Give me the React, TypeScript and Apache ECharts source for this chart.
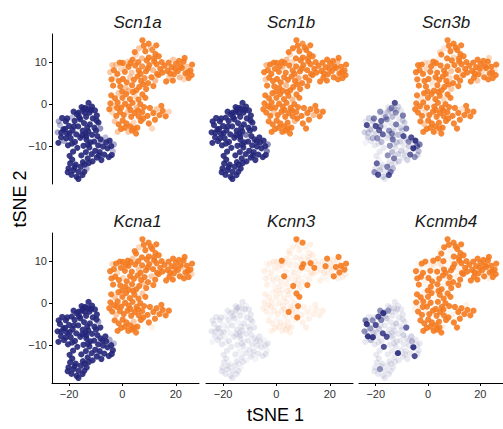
import React, { useEffect, useRef } from "react";
import * as echarts from "echarts";

const GENES = ["Scn1a", "Scn1b", "Scn3b", "Kcna1", "Kcnn3", "Kcnmb4"];
const X_TICKS = [-20, 0, 20];
const Y_TICKS = [-10, 0, 10];
const X_RANGE = [-26.4, 28.7];
const Y_RANGE = [-19, 16.7];

// tSNE coordinates of the orange cluster (shared by all panels)
const ORANGE_POINTS: [number, number][] = [
  [7.5, 15.2], [9.8, 14.4], [12.7, 14.0], [6.2, 13.3], [8.6, 12.6], [11.2, 12.9], [5.1, 11.8], [13.6, 11.4], [9.9, 11.1], [7.3, 10.9], [3.8, 10.6], [11.9, 10.2],
  [-4.6, 7.6], [-3.2, 8.1], [-1.9, 7.2], [-0.6, 8.4], [0.9, 7.7], [2.3, 8.9], [3.5, 7.5], [4.8, 9.2], [6.1, 8.0], [7.4, 9.0],
  [8.8, 7.8], [10.1, 9.3], [11.5, 8.1], [12.8, 9.5], [14.2, 8.4], [-4.1, 5.9], [-2.7, 6.3], [-1.3, 5.5], [0.2, 6.0], [1.6, 5.2],
  [2.9, 6.4], [4.3, 5.8], [5.7, 6.6], [7.0, 5.5], [8.3, 6.2], [9.6, 5.0], [10.9, 6.4], [12.3, 5.6], [13.5, 6.9], [-3.5, 4.4],
  [-0.8, 4.2], [1.1, 3.9], [3.6, 4.5], [6.3, 4.1], [8.9, 3.6], [11.6, 4.3], [2.0, 10.1], [0.1, 9.8], [-2.4, 9.4], [5.9, 10.0],
  [9.1, 10.4], [13.0, 7.2], [15.0, 7.5], [4.0, 2.9],
  [15.8, 9.1], [16.9, 7.9], [17.6, 6.3], [18.4, 8.8], [19.3, 7.1], [20.1, 9.6], [20.8, 7.9], [21.5, 6.4], [22.3, 8.6], [22.9, 10.1],
  [23.6, 7.3], [24.2, 8.9], [24.8, 6.2], [25.5, 8.0], [26.1, 9.4], [25.9, 6.9], [21.2, 10.3], [18.9, 5.6], [23.1, 5.9], [16.4, 5.4],
  [19.8, 8.4], [24.5, 7.6],
  [-4.2, 2.1], [-2.8, 1.4], [-1.5, 2.6], [0.0, 1.5], [1.4, 2.4], [2.8, 1.2], [4.5, 2.0], [6.0, 1.1], [7.5, 2.3], [-4.5, 0.2],
  [-3.1, -0.5], [-1.8, 0.4], [-0.4, -0.8], [1.0, 0.1], [2.4, -0.6], [3.8, 0.3], [5.3, -0.9], [6.7, 0.0], [8.1, -0.7], [-3.8, -2.0],
  [-2.3, -2.8], [-0.9, -1.9], [0.5, -2.6], [1.9, -1.8], [3.3, -3.0], [4.6, -2.1], [6.1, -2.9], [7.4, -1.9], [-2.9, -4.1], [-1.4, -4.8],
  [0.1, -3.9], [1.5, -4.6], [2.9, -5.3], [4.2, -4.4], [5.6, -5.6], [6.9, -4.0], [3.6, -6.3], [5.1, -7.0], [2.2, -6.6], [-0.5, -5.9],
  [8.6, 1.5], [9.4, -2.8],
  [10.3, -0.9], [11.6, -2.1], [12.8, -1.2], [13.9, -2.6], [15.1, -1.6], [16.2, -2.9], [17.4, -1.8], [12.2, -3.7], [11.1, -5.8], [14.6, -0.4],
  // additional points
  [8.0, 13.9], [10.6, 13.5], [4.6, 12.4], [12.4, 11.9], [1.2, 9.0], [-1.0, 9.9], [-3.8, 9.3], [3.0, 9.8], [6.8, 7.2], [9.5, 8.5],
  [11.9, 10.9], [14.7, 10.0], [17.3, 9.9], [19.0, 10.6], [21.8, 9.0], [23.3, 11.0], [17.9, 7.3], [-0.1, 3.0], [2.3, 3.2], [5.2, 3.3],
  [7.9, 4.7], [-4.9, -1.2], [-2.0, -0.9], [3.0, -1.4], [5.9, -1.5], [-1.8, -6.6], [0.9, -5.6], [7.8, -3.4], [9.9, -4.6], [4.4, -5.8],
];

// tSNE coordinates of the blue cluster (shared by all panels)
const BLUE_POINTS: [number, number][] = [
  [-12.7, 0.3], [-11.4, -0.6], [-13.9, -0.9], [-10.3, -1.5], [-15.2, -1.8], [-12.3, -2.0], [-17.1, -2.4], [-9.6, -2.7], [-13.6, -3.0], [-19.0, -3.2],
  [-11.1, -3.4], [-15.8, -3.6], [-21.2, -4.1], [-17.9, -4.0], [-14.4, -4.5], [-9.0, -4.4], [-12.2, -4.8], [-23.4, -5.0], [-20.0, -5.2], [-16.6, -5.3],
  [-10.5, -5.6], [-8.3, -5.8], [-22.1, -6.0], [-18.7, -6.2], [-14.9, -6.3], [-12.8, -6.5], [-24.3, -6.7], [-20.8, -7.0], [-17.3, -7.2], [-11.4, -7.3],
  [-9.4, -7.6], [-23.0, -7.9], [-19.4, -8.1], [-15.8, -8.0], [-13.5, -8.4], [-21.9, -8.8], [-17.8, -9.0], [-24.0, -9.2], [-10.6, -8.9], [-20.4, -9.8],
  [-16.2, -3.1], [-18.3, -1.8], [-14.1, -2.0], [-22.6, -3.3], [-19.8, -6.9],
  [-14.6, -9.9], [-12.4, -10.3], [-13.7, -11.4], [-11.5, -11.9], [-15.4, -12.2], [-13.0, -12.9], [-12.0, -9.1], [-14.8, -13.8],
  [-8.2, -8.4], [-6.4, -7.9], [-4.8, -8.7], [-3.2, -9.6], [-9.1, -9.8], [-7.3, -10.1], [-5.6, -10.5], [-3.6, -11.2], [-8.5, -11.4], [-6.8, -12.0],
  [-5.1, -12.6], [-9.6, -12.7], [-7.9, -13.3], [-6.1, -9.1], [-4.2, -10.0], [-10.2, -11.1],
  [-19.6, -14.1], [-17.5, -14.4], [-15.6, -14.9], [-20.2, -15.3], [-18.4, -15.7], [-16.5, -16.1], [-13.4, -15.3], [-19.1, -16.8], [-17.2, -17.3], [-15.0, -16.9],
  [-16.5, -17.8], [-14.1, -14.4], [-18.8, -13.2], [-12.6, -14.0], [-20.5, -16.2],
  [-16.9, -10.4], [-18.5, -11.3], [-11.2, -13.6], [-13.8, -7.0], [-21.5, -5.9], [-9.9, -6.3], [-15.3, -0.7], [-12.9, -1.2],
  // additional points
  [-11.8, -1.4], [-14.7, -1.2], [-16.4, -2.0], [-20.7, -3.4], [-23.9, -4.1], [-22.9, -6.8], [-18.2, -5.3], [-13.2, -5.6], [-9.7, -3.9], [-15.1, -7.4],
  [-21.1, -8.1], [-18.9, -9.4], [-12.9, -9.6], [-7.4, -8.9], [-4.0, -12.1], [-8.8, -12.2], [-17.9, -15.0], [-14.3, -16.1], [-19.8, -12.3], [-13.6, -7.7],
];

// expression levels (0 = none, 9 = high), one per point
const SCN1A_ORANGE = [
  9, 9, 9, 4, 9, 8, 3, 9, 9, 5, 9, 9,
  4, 9, 9, 3, 9, 9, 4, 9, 9, 8, 9, 9, 5, 9, 9, 9, 3, 9, 9, 9, 4, 9, 9, 9, 8, 9, 9, 5, 9, 9, 9, 4, 9, 9, 9, 9, 3, 9, 4, 9, 9, 9, 9, 9,
  9, 9, 4, 9, 9, 9, 9, 5, 9, 9, 9, 4, 9, 9, 9, 9, 9, 9, 3, 9, 9, 9,
  9, 9, 4, 9, 9, 9, 3, 9, 9, 9, 4, 9, 9, 9, 9, 9, 5, 9, 9, 3, 9, 9, 9, 4, 9, 9, 9, 9, 4, 9, 9, 9, 9, 3, 9, 9, 9, 9, 4, 9, 9, 9,
  9, 9, 4, 9, 9, 9, 3, 9, 3, 9,
  9, 4, 9, 9, 3, 9, 4, 9, 9, 9, 9, 9, 9, 4, 9, 9, 9, 9, 5, 9, 9, 9, 9, 9, 9, 4, 9, 9, 9, 9,
];
const SCN1B_ORANGE = [
  9, 8, 9, 9, 9, 9, 3, 9, 9, 9, 5, 9,
  9, 9, 9, 9, 9, 5, 9, 9, 9, 9, 9, 9, 9, 9, 9, 4, 9, 9, 9, 9, 9, 9, 9, 9, 6, 9, 9, 9, 9, 9, 9, 9, 5, 9, 9, 9, 9, 9, 9, 3, 9, 9, 9, 9,
  9, 9, 9, 9, 9, 9, 9, 9, 9, 5, 9, 9, 9, 9, 9, 9, 9, 9, 9, 9, 9, 9,
  9, 9, 9, 9, 9, 9, 9, 5, 9, 9, 9, 9, 9, 9, 9, 9, 9, 9, 9, 9, 9, 4, 9, 9, 9, 9, 9, 9, 9, 9, 9, 9, 9, 9, 9, 5, 9, 9, 9, 9, 9, 9,
  9, 9, 9, 5, 9, 9, 9, 9, 9, 9,
  9, 9, 9, 9, 9, 9, 5, 9, 9, 9, 9, 9, 9, 9, 9, 9, 9, 9, 9, 9, 9, 9, 9, 9, 9, 9, 9, 9, 9, 9,
];
const SCN3B_ORANGE = [
  9, 9, 9, 2, 9, 9, 9, 9, 3, 9, 1, 9,
  9, 9, 9, 3, 9, 2, 9, 9, 9, 9, 4, 9, 9, 9, 9, 9, 1, 9, 9, 2, 9, 9, 9, 9, 3, 9, 9, 9, 9, 9, 9, 1, 9, 9, 4, 9, 9, 2, 9, 0, 9, 3, 9, 9,
  9, 9, 9, 9, 9, 9, 3, 9, 9, 9, 9, 9, 9, 2, 9, 9, 9, 4, 9, 9, 9, 9,
  9, 2, 9, 9, 9, 9, 9, 3, 9, 9, 9, 9, 9, 1, 9, 9, 9, 9, 9, 9, 9, 2, 9, 9, 9, 9, 9, 9, 9, 4, 9, 9, 9, 9, 9, 9, 2, 9, 9, 9, 9, 9,
  9, 9, 2, 9, 9, 9, 9, 9, 9, 9,
  9, 9, 3, 9, 9, 2, 9, 9, 9, 1, 9, 9, 9, 9, 9, 3, 9, 9, 9, 9, 9, 9, 2, 9, 9, 9, 9, 9, 9, 9,
];
const KCNA1_ORANGE = [
  9, 9, 9, 3, 9, 9, 9, 9, 9, 9, 4, 9,
  9, 9, 3, 9, 9, 9, 9, 9, 4, 9, 9, 9, 9, 9, 9, 9, 9, 9, 3, 9, 9, 9, 9, 9, 9, 9, 4, 9, 9, 9, 9, 9, 9, 9, 9, 9, 9, 9, 9, 9, 9, 9, 9, 9,
  9, 9, 9, 9, 9, 9, 9, 9, 4, 9, 9, 9, 9, 9, 9, 3, 9, 9, 9, 9, 9, 9,
  9, 4, 9, 9, 9, 9, 9, 9, 4, 9, 9, 9, 9, 9, 9, 9, 9, 9, 9, 9, 4, 9, 9, 9, 9, 9, 9, 9, 9, 9, 9, 9, 9, 4, 9, 9, 9, 9, 9, 9, 9, 9,
  9, 9, 9, 9, 9, 9, 9, 9, 1, 9,
  9, 9, 9, 9, 9, 9, 3, 9, 9, 9, 9, 9, 9, 9, 9, 9, 9, 9, 9, 9, 4, 9, 9, 9, 9, 9, 9, 9, 9, 9,
];
const KCNN3_ORANGE = [
  9, 9, 1, 1, 1, 0, 1, 1, 0, 1, 1, 1,
  1, 0, 1, 1, 0, 1, 1, 1, 0, 1, 1, 9, 1, 9, 9, 1, 0, 1, 1, 1, 9, 1, 0, 1, 1, 1, 0, 1, 1, 1, 0, 1, 1, 9, 1, 9, 9, 1, 1, 0, 1, 1, 1, 1,
  1, 1, 0, 9, 1, 1, 1, 9, 9, 1, 9, 9, 1, 9, 9, 1, 1, 0, 1, 1, 1, 1,
  1, 1, 0, 1, 1, 1, 1, 0, 9, 1, 1, 1, 0, 1, 1, 1, 1, 1, 9, 1, 0, 1, 1, 1, 1, 9, 1, 1, 1, 1, 0, 1, 1, 1, 1, 0, 1, 1, 1, 1, 9, 1,
  1, 1, 0, 1, 1, 1, 1, 1, 1, 1,
  1, 0, 1, 1, 1, 1, 0, 1, 1, 9, 1, 1, 1, 9, 1, 9, 1, 1, 0, 1, 1, 1, 1, 1, 1, 1, 1, 9, 1, 1,
];
const KCNMB4_ORANGE = [
  9, 9, 9, 9, 1, 9, 9, 9, 9, 0, 9, 9,
  9, 1, 9, 0, 9, 1, 9, 2, 9, 0, 9, 9, 1, 9, 9, 9, 9, 1, 9, 9, 0, 9, 9, 1, 9, 9, 1, 9, 9, 9, 0, 9, 9, 1, 9, 9, 9, 0, 9, 9, 1, 9, 9, 9,
  9, 9, 9, 9, 9, 9, 9, 9, 9, 9, 9, 9, 9, 9, 9, 9, 9, 9, 1, 9, 9, 9,
  9, 9, 1, 9, 9, 0, 9, 9, 9, 9, 1, 9, 9, 9, 0, 9, 9, 9, 9, 9, 9, 1, 9, 9, 9, 9, 9, 0, 9, 9, 9, 9, 9, 9, 1, 9, 9, 9, 9, 9, 9, 1,
  9, 9, 9, 9, 9, 9, 9, 9, 9, 1,
  9, 9, 1, 9, 1, 9, 0, 1, 9, 9, 9, 9, 9, 9, 9, 9, 9, 9, 1, 9, 9, 1, 9, 9, 9, 9, 9, 9, 9, 9,
];

const SCN1A_BLUE = [
  9, 9, 9, 9, 4, 9, 9, 9, 9, 3, 9, 9, 9, 9, 9, 9, 9, 3, 9, 9, 9, 5, 9, 9, 9, 9, 4, 9, 9, 9, 9, 9, 9, 9, 9, 4, 9, 9, 9, 9, 9, 9, 9, 9, 9,
  9, 9, 9, 9, 9, 9, 9, 9,
  9, 3, 9, 4, 9, 9, 9, 3, 9, 9, 9, 9, 9, 9, 9, 9,
  9, 9, 9, 9, 9, 9, 4, 9, 9, 9, 9, 9, 9, 9, 9,
  9, 9, 9, 9, 9, 9, 9, 9,
  9, 9, 9, 9, 4, 9, 9, 9, 9, 9, 9, 9, 9, 3, 9, 9, 9, 9, 9, 9,
];
const SCN1B_BLUE = [
  9, 9, 9, 9, 9, 9, 9, 9, 9, 9, 9, 9, 9, 9, 9, 9, 9, 9, 9, 9, 9, 9, 9, 9, 9, 9, 9, 9, 9, 6, 9, 9, 9, 9, 9, 9, 9, 9, 9, 9, 9, 9, 9, 9, 9,
  9, 9, 9, 9, 9, 9, 9, 9,
  9, 9, 9, 5, 9, 9, 9, 6, 9, 9, 9, 9, 9, 9, 9, 9,
  9, 9, 9, 9, 9, 9, 9, 9, 9, 9, 9, 9, 9, 9, 9,
  9, 9, 9, 9, 9, 9, 9, 9,
  9, 9, 9, 9, 9, 9, 9, 9, 9, 9, 9, 9, 9, 9, 9, 9, 9, 9, 9, 9,
];
const SCN3B_BLUE = [
  8, 2, 5, 1, 2, 5, 1, 6, 3, 0, 1, 5, 2, 7, 1, 2, 6, 8, 8, 1, 2, 6, 2, 7, 5, 1, 2, 1, 7, 3, 8, 2, 5, 1, 6, 1, 3, 0, 2, 1, 4, 5, 1, 2, 1,
  5, 1, 3, 2, 5, 6, 2, 1,
  2, 8, 9, 6, 1, 2, 9, 3, 1, 7, 5, 1, 2, 1, 6, 2,
  7, 1, 6, 1, 2, 1, 3, 8, 2, 8, 1, 1, 0, 1, 5,
  1, 1, 2, 5, 1, 2, 1, 2,
  1, 2, 1, 6, 1, 2, 5, 1, 2, 1, 3, 1, 1, 5, 2, 1, 1, 6, 1, 2,
];
const KCNA1_BLUE = [
  9, 9, 9, 9, 9, 9, 9, 9, 9, 9, 9, 9, 9, 9, 9, 4, 9, 9, 9, 9, 9, 9, 9, 9, 9, 9, 9, 9, 9, 9, 9, 9, 9, 9, 9, 9, 9, 9, 9, 9, 9, 9, 9, 9, 9,
  9, 9, 9, 9, 9, 9, 9, 9,
  9, 9, 4, 3, 9, 9, 9, 9, 9, 9, 9, 9, 9, 9, 9, 9,
  9, 9, 9, 9, 9, 9, 9, 9, 9, 9, 9, 9, 9, 9, 9,
  9, 9, 9, 9, 9, 9, 9, 9,
  9, 9, 9, 9, 9, 9, 9, 9, 9, 9, 9, 9, 9, 9, 9, 4, 9, 9, 9, 9,
];
const KCNN3_BLUE = [
  1, 0, 1, 1, 1, 0, 1, 1, 1, 0, 1, 1, 1, 1, 0, 1, 1, 1, 0, 1, 1, 1, 1, 0, 1, 1, 1, 1, 0, 1, 1, 1, 0, 1, 1, 1, 1, 0, 1, 1, 1, 1, 0, 1, 1,
  1, 1, 0, 1, 1, 1, 0, 1,
  1, 1, 0, 1, 1, 1, 1, 0, 1, 1, 1, 1, 0, 1, 1, 1,
  1, 0, 1, 1, 1, 1, 0, 1, 1, 1, 1, 0, 1, 1, 1,
  1, 1, 0, 1, 1, 1, 1, 0,
  1, 1, 0, 1, 1, 1, 0, 1, 1, 1, 1, 0, 1, 1, 1, 0, 1, 1, 1, 1,
];
const KCNMB4_BLUE = [
  1, 1, 0, 1, 4, 1, 9, 1, 1, 8, 1, 2, 5, 6, 1, 1, 2, 9, 8, 1, 1, 7, 4, 2, 1, 1, 5, 2, 8, 1, 2, 9, 1, 8, 1, 3, 1, 1, 1, 1, 1, 5, 1, 1, 1,
  1, 1, 1, 9, 1, 1, 1, 1,
  1, 2, 1, 1, 1, 1, 9, 1, 1, 1, 8, 1, 1, 3, 1, 1,
  1, 1, 1, 1, 5, 1, 1, 1, 1, 1, 1, 1, 1, 1, 1,
  8, 1, 1, 1, 1, 1, 1, 1,
  1, 1, 2, 1, 6, 1, 1, 1, 1, 1, 9, 1, 1, 1, 1, 1, 1, 1, 1, 1,
];

const ORANGE_LEVELS = [SCN1A_ORANGE, SCN1B_ORANGE, SCN3B_ORANGE, KCNA1_ORANGE, KCNN3_ORANGE, KCNMB4_ORANGE];
const BLUE_LEVELS = [SCN1A_BLUE, SCN1B_BLUE, SCN3B_BLUE, KCNA1_BLUE, KCNN3_BLUE, KCNMB4_BLUE];

const ORANGE = "#F47A1F";
const BLUE = "#24267A";
const FONT = '"Liberation Sans", Arial, Helvetica, sans-serif';

const COL_LEFT = [52, 206, 359];
const ROW_TOP = [34, 233];
const PANEL_W = 147;
const PANEL_H = 150;
const TITLE_X = [137.5, 291, 446];
const TITLE_Y = [22, 221];

function levelOpacity(lvl: number) {
  return lvl <= 0 ? 0.05 : 0.1 + (lvl - 1) * 0.1;
}

function toItems(points: [number, number][], levels: number[]) {
  return points
    .map((p, i) => ({ p, lvl: levels[i] ?? 1 }))
    .sort((a, b) => a.lvl - b.lvl)
    .map((d) => ({ value: d.p, itemStyle: { opacity: levelOpacity(d.lvl) } }));
}

const fmt = (v: number) => String(v).replace("-", "\u2212");

export default function App() {
  const ref = useRef<HTMLDivElement>(null);
  useEffect(() => {
    if (!ref.current) return;
    const chart = echarts.init(ref.current, null, { renderer: "svg" });
    const grids: any[] = [];
    const xAxes: any[] = [];
    const yAxes: any[] = [];
    const series: any[] = [];
    const graphics: any[] = [];
    GENES.forEach((gene, i) => {
      const row = Math.floor(i / 3);
      const col = i % 3;
      grids.push({ left: COL_LEFT[col], top: ROW_TOP[row], width: PANEL_W, height: PANEL_H, containLabel: false });
      const showX = row === 1;
      const showY = col === 0;
      xAxes.push({
        gridIndex: i,
        type: "value",
        min: X_RANGE[0],
        max: X_RANGE[1],
        splitLine: { show: false },
        axisLine: { show: showX, onZero: false, lineStyle: { color: "#000", width: 1 } },
        axisTick: { show: showX, customValues: X_TICKS, length: 3, lineStyle: { color: "#000", width: 1 } },
        axisLabel: { show: showX, customValues: X_TICKS, formatter: fmt, color: "#333", fontSize: 11, fontFamily: FONT, margin: 5 },
      });
      yAxes.push({
        gridIndex: i,
        type: "value",
        min: Y_RANGE[0],
        max: Y_RANGE[1],
        splitLine: { show: false },
        axisLine: { show: showY, onZero: false, lineStyle: { color: "#000", width: 1 } },
        axisTick: { show: showY, customValues: Y_TICKS, length: 3, lineStyle: { color: "#000", width: 1 } },
        axisLabel: { show: showY, customValues: Y_TICKS, formatter: fmt, color: "#333", fontSize: 11, fontFamily: FONT, margin: 5 },
      });
      series.push({
        type: "scatter",
        xAxisIndex: i,
        yAxisIndex: i,
        symbolSize: 6.2,
        silent: true,
        itemStyle: { color: BLUE },
        data: toItems(BLUE_POINTS, BLUE_LEVELS[i]),
      });
      series.push({
        type: "scatter",
        xAxisIndex: i,
        yAxisIndex: i,
        symbolSize: 6.2,
        silent: true,
        itemStyle: { color: ORANGE },
        data: toItems(ORANGE_POINTS, ORANGE_LEVELS[i]),
      });
      graphics.push({
        type: "text",
        x: TITLE_X[col],
        y: TITLE_Y[row],
        style: {
          text: gene,
          font: `italic 17px ${FONT}`,
          fill: "#1a1a1a",
          align: "center",
          verticalAlign: "middle",
          textAlign: "center",
          textVerticalAlign: "middle",
        },
      });
    });
    graphics.push({
      type: "text",
      x: 275.5,
      y: 415,
      style: { text: "tSNE 1", font: `18px ${FONT}`, fill: "#000", align: "center", verticalAlign: "middle", textAlign: "center", textVerticalAlign: "middle" },
    });
    graphics.push({
      type: "text",
      x: 20,
      y: 199,
      rotation: Math.PI / 2,
      style: { text: "tSNE 2", font: `18px ${FONT}`, fill: "#000", align: "center", verticalAlign: "middle", textAlign: "center", textVerticalAlign: "middle" },
    });
    chart.setOption({
      animation: false,
      backgroundColor: "#fff",
      grid: grids,
      xAxis: xAxes,
      yAxis: yAxes,
      series,
      graphic: graphics,
    });
    return () => chart.dispose();
  }, []);
  return <div ref={ref} style={{ position: "fixed", left: 0, top: 0, width: 503, height: 429 }} />;
}
